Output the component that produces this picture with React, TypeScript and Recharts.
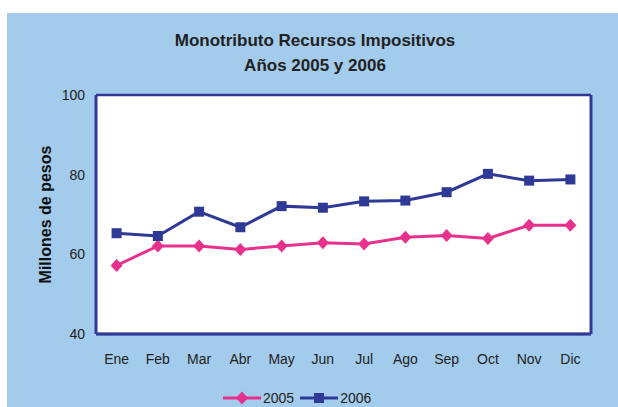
import React from "react";
import {
  LineChart,
  Line,
  XAxis,
  YAxis,
  CartesianGrid,
  Legend,
} from "recharts";

const months = ["Ene", "Feb", "Mar", "Abr", "May", "Jun", "Jul", "Ago", "Sep", "Oct", "Nov", "Dic"];
const values2005 = [57.2, 62.1, 62.1, 61.2, 62.1, 62.9, 62.6, 64.3, 64.7, 64.0, 67.3, 67.3];
const values2006 = [65.3, 64.6, 70.7, 66.8, 72.1, 71.7, 73.3, 73.5, 75.6, 80.2, 78.5, 78.8];
const yTicks = [40, 60, 80, 100];

const data = months.map((m, i) => ({ month: m, y2005: values2005[i], y2006: values2006[i] }));

const NAVY = "#2f3a97";
const PINK = "#e8318c";
const BG = "#a3cbeb";
const FONT = "'Liberation Sans', Arial, sans-serif";

const Diamond = (props: any) => {
  const { cx, cy } = props;
  if (cx == null || cy == null) return null;
  return <polygon points={`${cx},${cy - 6.5} ${cx + 6},${cy} ${cx},${cy + 6.5} ${cx - 6},${cy}`} fill={PINK} />;
};

const Square = (props: any) => {
  const { cx, cy } = props;
  if (cx == null || cy == null) return null;
  return <rect x={cx - 5} y={cy - 5} width={10} height={10} fill={NAVY} />;
};

const YLabel = (props: any) => {
  const { viewBox } = props;
  const x = viewBox.x + 38;
  const y = viewBox.y + viewBox.height / 2;
  return (
    <text
      x={x}
      y={y}
      transform={`rotate(-90 ${x} ${y})`}
      textAnchor="middle"
      dominantBaseline="central"
      fontFamily={FONT}
      fontWeight="bold"
      fontSize={16}
      fill="#111"
    >
      Millones de pesos
    </text>
  );
};

const LegendContent = () => {
  const items = [
    { label: "2005", color: PINK, marker: "diamond" },
    { label: "2006", color: NAVY, marker: "square" },
  ];
  return (
    <div style={{ display: "flex", alignItems: "center", fontFamily: FONT, fontSize: 14, lineHeight: "14px", color: "#222" }}>
      {items.map((it) => (
        <div key={it.label} style={{ display: "flex", alignItems: "center", marginRight: 6 }}>
          <svg width={38} height={14}>
            <line x1={0} y1={7} x2={38} y2={7} stroke={it.color} strokeWidth={3} />
            {it.marker === "diamond" ? (
              <polygon points="19,0.5 25,7 19,13.5 13,7" fill={it.color} />
            ) : (
              <rect x={14} y={2} width={10} height={10} fill={it.color} />
            )}
          </svg>
          <span style={{ marginLeft: 2 }}>{it.label}</span>
        </div>
      ))}
    </div>
  );
};

export default function App() {
  return (
    <div style={{ position: "absolute", left: 7, top: 13, width: 611, height: 394, background: BG }}>
      <div
        style={{
          position: "absolute",
          left: 0,
          width: 616,
          top: 15,
          textAlign: "center",
          fontFamily: FONT,
          fontWeight: "bold",
          fontSize: 17,
          lineHeight: "25px",
          color: "#222",
        }}
      >
        Monotributo Recursos Impositivos
        <br />
        Años 2005 y 2006
      </div>
      <LineChart width={611} height={394} data={data} margin={{ top: 82, right: 0, bottom: 43, left: 0 }}>
        <CartesianGrid vertical={false} stroke={NAVY} strokeWidth={2.5} fill="#ffffff" fillOpacity={1} />
        <XAxis
          dataKey="month"
          height={30}
          padding={{ left: 20.6, right: 20.6 }}
          axisLine={{ stroke: NAVY, strokeWidth: 3 }}
          tickLine={false}
          tickMargin={14}
          tick={{ fontFamily: FONT, fontSize: 14, fill: "#222" }}
          interval={0}
        />
        <YAxis
          yAxisId="left"
          width={89}
          domain={[40, 100]}
          ticks={yTicks}
          axisLine={{ stroke: NAVY, strokeWidth: 3 }}
          tickLine={false}
          tickMargin={5}
          tick={{ fontFamily: FONT, fontSize: 14, fill: "#222" }}
          label={{ content: YLabel }}
        />
        <YAxis
          yAxisId="right"
          orientation="right"
          width={27}
          domain={[40, 100]}
          ticks={yTicks}
          axisLine={{ stroke: NAVY, strokeWidth: 3 }}
          tickLine={false}
          tick={false}
        />
        <Legend
          layout="horizontal"
          verticalAlign="middle"
          align="center"
          content={<LegendContent />}
          wrapperStyle={{ top: 378, left: 216, width: 200 }}
        />
        <Line
          yAxisId="left"
          dataKey="y2005"
          name="2005"
          stroke={PINK}
          strokeWidth={3}
          dot={<Diamond />}
          activeDot={false}
          isAnimationActive={false}
        />
        <Line
          yAxisId="left"
          dataKey="y2006"
          name="2006"
          stroke={NAVY}
          strokeWidth={3}
          dot={<Square />}
          activeDot={false}
          isAnimationActive={false}
        />
      </LineChart>
    </div>
  );
}
